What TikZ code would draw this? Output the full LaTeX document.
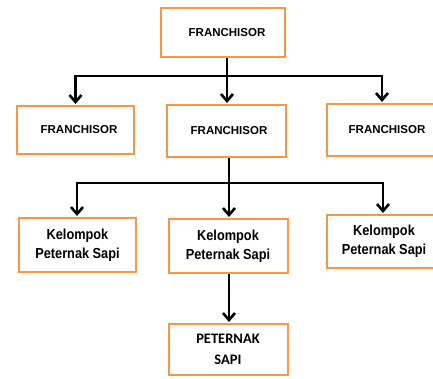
\documentclass[tikz,border=0pt]{standalone}
\usepackage{fontspec}
\setmainfont{Liberation Sans}
\newfontfamily\narrowarial[FakeStretch=0.88]{Liberation Sans}
\newfontfamily\calib{Carlito}
\usetikzlibrary{arrows.meta}
\definecolor{boxorange}{HTML}{F79646}
\begin{document}
\begin{tikzpicture}[x=1pt,y=-1pt,
  box/.style={draw=boxorange,line width=2pt,inner sep=0pt,align=center},
  fr/.style={box,font=\bfseries\fontsize{11.5}{14}\selectfont},
  kp/.style={box,font=\narrowarial\bfseries\fontsize{14.5}{19}\selectfont},
  ps/.style={box,font=\calib\bfseries\fontsize{14.5}{21}\selectfont},
  conn/.style={line width=2.6pt,black},
  arr/.style={conn,-{Straight Barb[length=7pt,width=12pt]},shorten >=1pt}]
\useasboundingbox (0,0) rectangle (433,378);
% row 1
\node[fr,minimum width=124pt,minimum height=49pt] (top) at (223,32.5) {\hspace*{8pt}FRANCHISOR};
% row 2
\node[fr,minimum width=117pt,minimum height=48pt] (l2) at (75.5,130) {\hspace*{7pt}FRANCHISOR};
\node[fr,minimum width=119pt,minimum height=52pt] (m2) at (226,131) {\hspace*{6pt}FRANCHISOR};
\node[fr,minimum width=120pt,minimum height=52pt] (r2) at (387,130) {FRANCHISOR};
% row 3
\node[kp,minimum width=117pt,minimum height=54pt] (l3) at (77.5,245) {Kelompok\\Peternak Sapi};
\node[kp,minimum width=119pt,minimum height=54pt] (m3) at (228,246) {Kelompok\\Peternak Sapi};
\node[kp,minimum width=114pt,minimum height=53pt] (r3) at (384,241.5) {Kelompok\\Peternak Sapi};
% row 4
\node[ps,minimum width=119pt,minimum height=51pt] (b4) at (228,349.5) {PETERNAK\\SAPI};
% connectors
\coordinate (j1) at (227,76);
\draw[conn] (top.south -| j1) -- (j1);
\draw[arr] (j1) -| (l2);
\draw[arr] (j1) -- (j1 |- m2.north);
\draw[arr] (j1) -| (r2.north -| 382,0);
\coordinate (j2) at (229,183);
\draw[conn] (m2.south -| j2) -- (j2);
\draw[arr] (j2) -| (l3.north -| 77,0);
\draw[arr] (j2) -- (j2 |- m3.north);
\draw[arr] (j2) -| (r3.north -| 383,0);
\draw[arr] (m3.south -| j2) -- (b4.north -| j2);
\end{tikzpicture}
\end{document}
